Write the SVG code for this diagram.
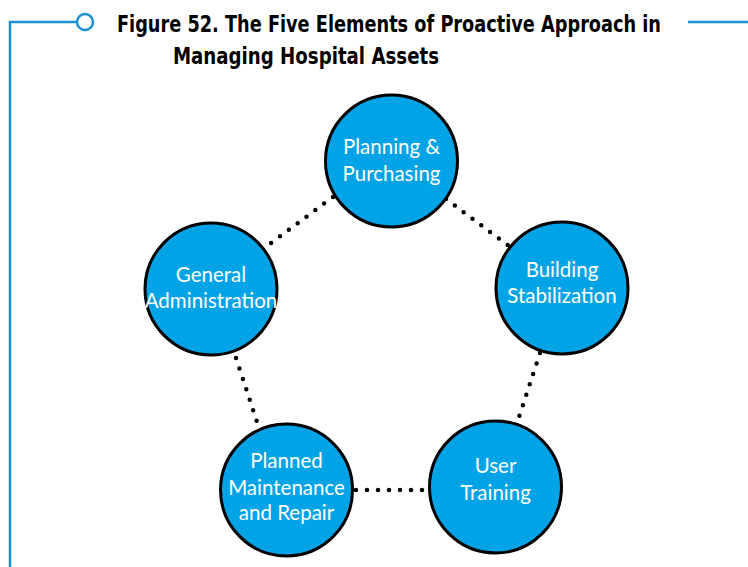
<svg xmlns="http://www.w3.org/2000/svg" width="748" height="567" viewBox="0 0 748 567">
<style>
.frame{stroke:#1E90D6;stroke-width:2.5;fill:none}
.title{font-family:"DejaVu Sans Condensed","Liberation Sans Narrow","Liberation Sans",sans-serif;font-weight:bold;font-stretch:condensed;font-size:23px;fill:#000}
.node circle{fill:#00A4E6;stroke:#000;stroke-width:3}
.node text{font-family:Lato,"Liberation Sans",sans-serif;font-size:20.5px;fill:#fff;text-anchor:middle}
.dots line{stroke:#000;stroke-width:4.5;stroke-linecap:round;stroke-dasharray:0 11}
</style>
<rect width="748" height="567" fill="#fff"/>
<g id="frame">
<path class="frame" d="M10 567 V22 H77"/>
<circle cx="85" cy="22" r="8" fill="#fff" stroke="#1E90D6" stroke-width="2.5"/>
<path class="frame" d="M688 22 H748"/>
<text class="title" x="117" y="32" textLength="544" lengthAdjust="spacingAndGlyphs">Figure 52. The Five Elements of Proactive Approach in</text>
<text class="title" x="173" y="64" textLength="266" lengthAdjust="spacingAndGlyphs">Managing Hospital Assets</text>
</g>
<g id="connectors" class="dots">
<line x1="333" y1="197" x2="271" y2="243"/>
<line x1="446" y1="199" x2="509" y2="246"/>
<line x1="236" y1="358" x2="257" y2="422"/>
<line x1="356" y1="490" x2="423" y2="490"/>
<line x1="540" y1="353" x2="519" y2="417"/>
</g>
<g id="planning" class="node">
<circle cx="391.5" cy="161" r="66"/>
<text x="391.5" y="154">Planning &amp;</text>
<text x="391.5" y="181">Purchasing</text>
</g>
<g id="general" class="node">
<circle cx="211" cy="289" r="66"/>
<text x="211" y="282">General</text>
<text x="211" y="308">Administration</text>
</g>
<g id="building" class="node">
<circle cx="562" cy="288" r="66"/>
<text x="562" y="277">Building</text>
<text x="562" y="303">Stabilization</text>
</g>
<g id="planned" class="node">
<circle cx="286.5" cy="490" r="66"/>
<text x="286.5" y="468">Planned</text>
<text x="286.5" y="495">Maintenance</text>
<text x="286.5" y="520">and Repair</text>
</g>
<g id="user" class="node">
<circle cx="495.5" cy="487" r="66"/>
<text x="495.5" y="473">User</text>
<text x="495.5" y="500">Training</text>
</g>
</svg>
